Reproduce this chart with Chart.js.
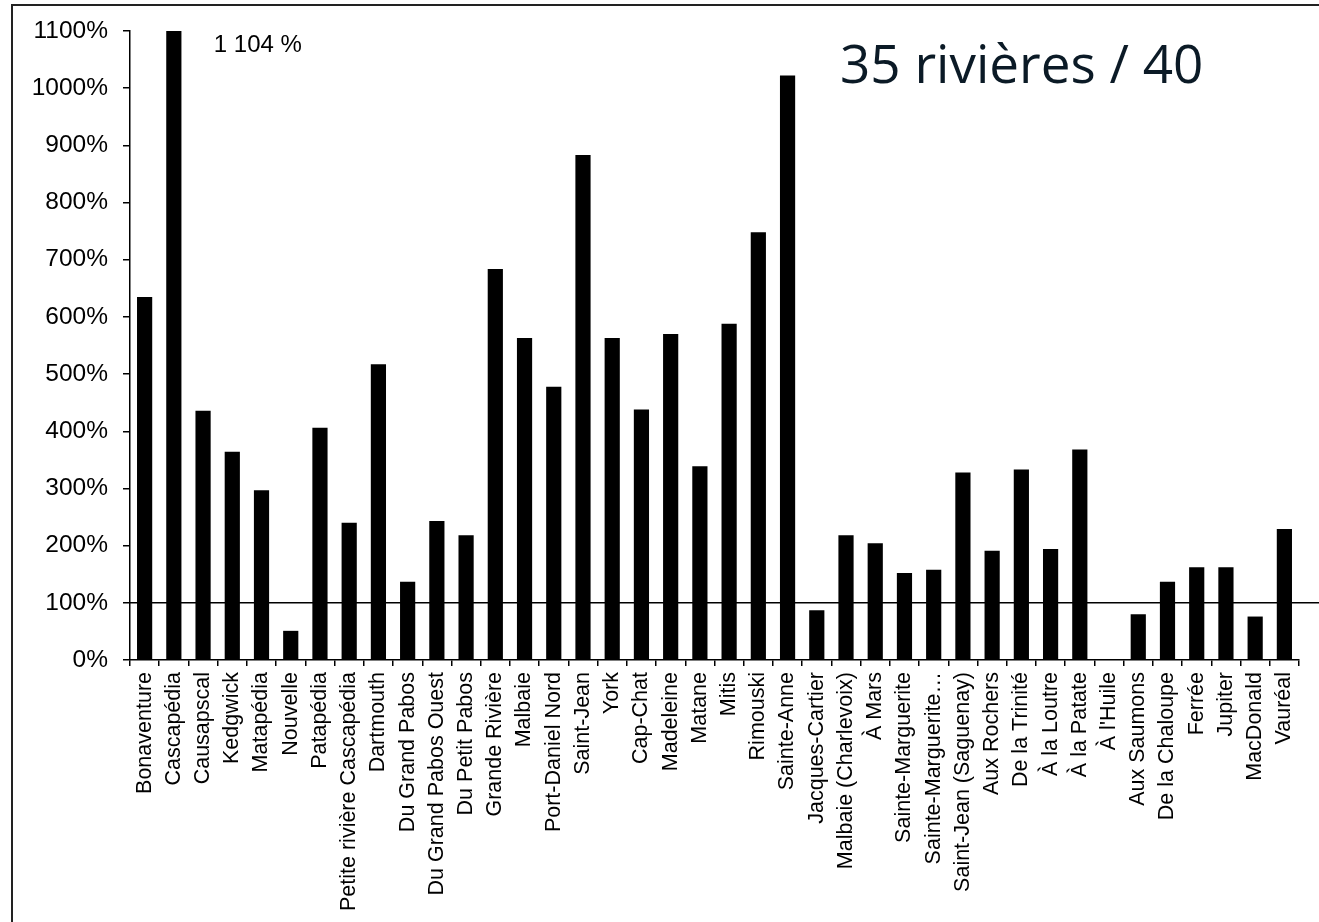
<!DOCTYPE html>
<html>
<head>
<meta charset="utf-8">
<script src="https://cdn.jsdelivr.net/npm/chart.js@4/dist/chart.umd.min.js"></script>
<style>
  html, body { margin: 0; padding: 0; background: #fff; }
  canvas { display: block; }
</style>
</head>
<body>
<canvas id="c" width="1319" height="922"></canvas>
<script>
const categories = ['Bonaventure','Cascapédia','Causapscal','Kedgwick','Matapédia','Nouvelle','Patapédia','Petite rivière Cascapédia','Dartmouth','Du Grand Pabos','Du Grand Pabos Ouest','Du Petit Pabos','Grande Rivière','Malbaie','Port-Daniel Nord','Saint-Jean','York','Cap-Chat','Madeleine','Matane','Mitis','Rimouski','Sainte-Anne','Jacques-Cartier','Malbaie (Charlevoix)','À Mars','Sainte-Marguerite','Sainte-Marguerite…','Saint-Jean (Saguenay)','Aux Rochers','De la Trinité','À la Loutre','À la Patate',"À l'Huile",'Aux Saumons','De la Chaloupe','Ferrée','Jupiter','MacDonald','Vauréal'];
const values = [635, 1104, 436, 364, 297, 51, 406, 240, 517, 137, 243, 218, 684, 563, 478, 883, 563, 438, 570, 339, 588, 748, 1022, 87, 218, 204, 152, 158, 328, 191, 333, 194, 368, 0, 80, 137, 162, 162, 76, 229];
const yMin = 0, yMax = 1100, yMinorStep = 50, yLabelStep = 100;
const referenceValue = 100;
const annotationText = '1 104 %';
const annotationIndex = 1;
const titleText = '35 rivières / 40';

const framePlugin = {
  id: 'frame',
  afterDatasetsDraw(chart) {
    const ctx = chart.ctx, y = chart.scales.y;
    const ca = chart.chartArea;
    ctx.save();
    // reference line at 100%
    const yp = y.getPixelForValue(referenceValue);
    ctx.strokeStyle = '#000';
    ctx.lineWidth = 1.5;
    ctx.beginPath();
    ctx.moveTo(ca.left, yp);
    ctx.lineTo(chart.width, yp);
    ctx.stroke();
    // annotation near clipped bar
    const bar = chart.getDatasetMeta(0).data[annotationIndex];
    ctx.fillStyle = '#000';
    ctx.font = '24px "Liberation Sans", Arial, sans-serif';
    ctx.textAlign = 'left';
    ctx.textBaseline = 'alphabetic';
    ctx.fillText(annotationText, bar.x + 40, y.getPixelForValue(yMax) + 21);
    // title
    ctx.fillStyle = '#0b1a26';
    ctx.font = '53px "Open Sans", sans-serif';
    ctx.fillText(titleText, 840, 83);
    // frame lines
    ctx.strokeStyle = '#222';
    ctx.lineWidth = 2;
    ctx.beginPath();
    ctx.moveTo(12, chart.height);
    ctx.lineTo(12, 5);
    ctx.lineTo(chart.width, 5);
    ctx.stroke();
    ctx.restore();
  }
};

new Chart(document.getElementById('c'), {
  type: 'bar',
  data: {
    labels: categories,
    datasets: [{
      data: values,
      backgroundColor: '#000',
      borderWidth: 0,
      categoryPercentage: 1,
      barPercentage: 0.52
    }]
  },
  options: {
    responsive: false,
    animation: false,
    devicePixelRatio: 1,
    events: [],
    layout: { padding: { top: 31, right: 20, left: 0, bottom: 0 } },
    plugins: { legend: { display: false }, tooltip: { enabled: false }, title: { display: false } },
    scales: {
      x: {
        grid: { drawOnChartArea: false, drawTicks: true, tickLength: 6, color: '#000', lineWidth: 1.5, offset: true },
        border: { display: true, color: '#000', width: 1.5 },
        ticks: {
          autoSkip: false, maxRotation: 90, minRotation: 90, padding: 6,
          color: '#000', font: { family: '"Liberation Sans", Arial, sans-serif', size: 21.5 }
        },
        afterFit(scale) { scale.height = 262; }
      },
      y: {
        min: yMin, max: yMax,
        grid: { drawOnChartArea: false, drawTicks: true, tickLength: 7, color: '#000', lineWidth: 1.5 },
        border: { display: true, color: '#000', width: 1.5 },
        ticks: {
          stepSize: yMinorStep, padding: 15, color: '#000',
          font: { family: '"Liberation Sans", Arial, sans-serif', size: 24.5 },
          callback: (v) => (v % yLabelStep === 0 ? v + '%' : '')
        },
        afterFit(scale) { scale.width = 130; }
      }
    }
  },
  plugins: [framePlugin]
});
</script>
</body>
</html>
